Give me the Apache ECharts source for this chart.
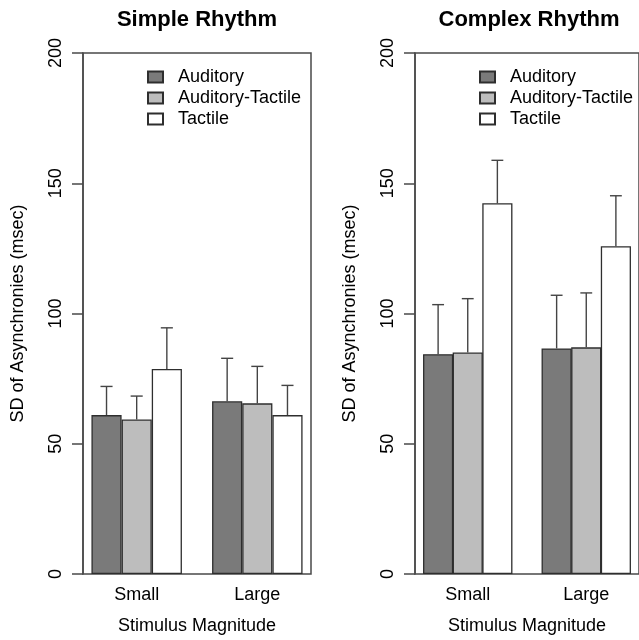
<!DOCTYPE html>
<html>
<head>
<meta charset="utf-8">
<script src="https://cdn.jsdelivr.net/npm/echarts@6/dist/echarts.min.js"></script>
<style>
html,body{margin:0;padding:0;background:#fff;}
#chart{width:639px;height:640px;}
</style>
</head>
<body>
<div id="chart"></div>
<script>
// ---- data ----
const categories = ['Small', 'Large'];
const seriesNames = ['Auditory', 'Auditory-Tactile', 'Tactile'];
const panelTitles = ['Simple Rhythm', 'Complex Rhythm'];
const yTicks = [0, 50, 100, 150, 200];

// Simple rhythm: means and error (upper whisker length)
const simpleAuditory = [61.0, 66.3];
const simpleAudTactile = [59.3, 65.5];
const simpleTactile = [78.7, 61.0];
const simpleAuditoryErr = [11.0, 16.5];
const simpleAudTactileErr = [9.0, 14.2];
const simpleTactileErr = [15.8, 11.4];

// Complex rhythm
const complexAuditory = [84.4, 86.6];
const complexAudTactile = [85.0, 87.0];
const complexTactile = [142.3, 125.8];
const complexAuditoryErr = [19.0, 20.4];
const complexAudTactileErr = [20.7, 20.9];
const complexTactileErr = [16.5, 19.4];

// ---- layout / style ----
const FONT = 'Liberation Sans, Arial, Helvetica, sans-serif';
const fills = ['#7a7a7a', '#bdbdbd', '#ffffff'];
const panels = [
  {means: [simpleAuditory, simpleAudTactile, simpleTactile],
   errs: [simpleAuditoryErr, simpleAudTactileErr, simpleTactileErr], left: 83},
  {means: [complexAuditory, complexAudTactile, complexTactile],
   errs: [complexAuditoryErr, complexAudTactileErr, complexTactileErr], left: 415}
];
const GRID_TOP = 53, GRID_H = 524, GRID_W = 228;
const XMIN = 0.72, XMAX = 8.28;           // R barplot style x range
const unitPx = GRID_W / (XMAX - XMIN);
// group i occupies units [1+4i, 4+4i]; category centre at 2.5+4i
const groupCenter = i => 2.5 + 4 * i;

const chart = echarts.init(document.getElementById('chart'), null, {renderer: 'canvas'});

const grid = [], xAxis = [], yAxis = [], series = [], title = [], legend = [];

panels.forEach((p, pi) => {
  grid.push({left: p.left, top: GRID_TOP, width: GRID_W, height: GRID_H,
    show: true, borderColor: '#4a4a4a', borderWidth: 1.5, backgroundColor: 'transparent',
    containLabel: false});
  xAxis.push({
    type: 'value', gridIndex: pi, min: XMIN, max: XMAX,
    axisLine: {show: false}, axisTick: {show: false}, splitLine: {show: false},
    axisLabel: {
      customValues: categories.map((c, i) => groupCenter(i)),
      formatter: v => {
        const i = categories.findIndex((c, k) => Math.abs(groupCenter(k) - v) < 1e-6);
        return i >= 0 ? categories[i] : '';
      },
      color: '#000', fontFamily: FONT, fontSize: 18, margin: 12
    },
    name: 'Stimulus Magnitude', nameLocation: 'middle', nameGap: 43,
    nameTextStyle: {color: '#000', fontFamily: FONT, fontSize: 18}
  });
  yAxis.push({
    type: 'value', gridIndex: pi, min: 0, max: 200, interval: 50,
    axisLine: {show: true, lineStyle: {color: '#4a4a4a', width: 1.5}},
    axisTick: {show: true, length: 11, lineStyle: {color: '#4a4a4a', width: 1.5}},
    splitLine: {show: false},
    axisLabel: {rotate: 90, margin: 18, color: '#000', fontFamily: FONT, fontSize: 18,
      formatter: v => yTicks.includes(v) ? String(v) : ''},
    name: 'SD of Asynchronies (msec)', nameLocation: 'middle', nameGap: 56, nameRotate: 90,
    nameTextStyle: {color: '#000', fontFamily: FONT, fontSize: 18}
  });
  title.push({
    text: panelTitles[pi], left: p.left + GRID_W / 2, top: 9, textAlign: 'center', padding: 0,
    textStyle: {color: '#000', fontFamily: FONT, fontSize: 22, fontWeight: 'bold'}
  });
  legend.push({
    data: seriesNames, orient: 'vertical', left: p.left + 64, top: 68, padding: 0,
    itemWidth: 15, itemHeight: 11, itemGap: 3, selectedMode: false,
    icon: 'rect',
    textStyle: {color: '#000', fontFamily: FONT, fontSize: 18, padding: [0, 0, 0, 10]}
  });
  seriesNames.forEach((name, si) => {
    series.push({
      type: 'bar', name: name, xAxisIndex: pi, yAxisIndex: pi,
      barWidth: unitPx, barGap: '-100%',
      itemStyle: {color: fills[si], borderColor: '#2e2e2e', borderWidth: 1.3},
      data: categories.map((c, i) => [groupCenter(i) + (si - 1), p.means[si][i]]),
      z: 2
    });
  });
  const errData = [];
  seriesNames.forEach((name, si) => {
    categories.forEach((c, i) => {
      errData.push([groupCenter(i) + (si - 1), p.means[si][i], p.errs[si][i]]);
    });
  });
  series.push({
    type: 'custom', name: 'err' + pi, xAxisIndex: pi, yAxisIndex: pi, z: 5,
    renderItem: (params, api) => {
      const x = api.value(0), y = api.value(1), e = api.value(2);
      const b = api.coord([x, y]), t = api.coord([x, y + e]);
      const half = api.size([0.2, 0])[0];
      const st = {stroke: '#444', lineWidth: 1.4};
      return {type: 'group', children: [
        {type: 'line', shape: {x1: b[0], y1: b[1], x2: t[0], y2: t[1]}, style: st},
        {type: 'line', shape: {x1: t[0] - half, y1: t[1], x2: t[0] + half, y2: t[1]}, style: st}
      ]};
    },
    data: errData
  });
});

chart.setOption({
  animation: false,
  backgroundColor: '#fff',
  title, legend, grid, xAxis, yAxis, series
});
</script>
</body>
</html>
